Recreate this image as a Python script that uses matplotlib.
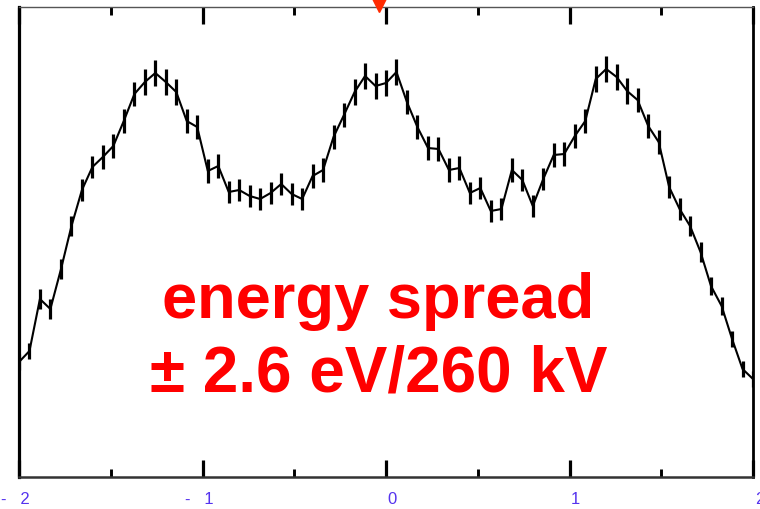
import matplotlib
matplotlib.use("Agg")
import matplotlib.pyplot as plt
import matplotlib.transforms as mtransforms
from matplotlib.ticker import MultipleLocator

plt.rcParams['font.family'] = ['Liberation Sans', 'DejaVu Sans']

# energy axis (data grid, -2 .. 2)
energy = [-2.000, -1.943, -1.886, -1.829, -1.771, -1.714, -1.657, -1.600, -1.543, -1.486,
          -1.429, -1.371, -1.314, -1.257, -1.200, -1.143, -1.086, -1.029, -0.971, -0.914,
          -0.857, -0.800, -0.743, -0.686, -0.629, -0.571, -0.514, -0.457, -0.400, -0.343,
          -0.286, -0.229, -0.171, -0.114, -0.057, 0.000, 0.057, 0.114, 0.171, 0.229,
          0.286, 0.343, 0.400, 0.457, 0.514, 0.571, 0.629, 0.686, 0.743, 0.800,
          0.857, 0.914, 0.971, 1.029, 1.086, 1.143, 1.200, 1.257, 1.314, 1.371,
          1.429, 1.486, 1.543, 1.600, 1.657, 1.714, 1.771, 1.829, 1.886, 1.943, 2.000]

counts = [115, 126, 178, 168, 208, 251, 287, 310, 320, 331,
          356, 383, 395, 404, 395, 385, 356, 350, 306, 311,
          285, 287, 281, 278, 284, 293, 283, 278, 301, 307,
          340, 362, 385, 401, 391, 394, 405, 375, 350, 329,
          328, 307, 309, 284, 289, 266, 268, 307, 297, 271,
          298, 322, 323, 341, 356, 398, 408, 400, 386, 377,
          351, 335, 290, 268, 251, 225, 191, 171, 138, 108, 98]

errors = [8, 8, 10, 10, 10, 10, 11, 11, 12, 12,
          12, 12, 13, 13, 13, 13, 12, 12, 12, 12,
          11, 11, 11, 11, 11, 11, 11, 11, 12, 12,
          12, 12, 13, 13, 13, 13, 13, 12, 12, 12,
          12, 12, 12, 11, 11, 11, 11, 12, 11, 11,
          11, 12, 12, 12, 12, 13, 13, 13, 13, 12,
          12, 12, 11, 11, 10, 10, 9, 9, 8, 8, 8]

tick_pos = [-2, -1, 0, 1, 2]
tick_labels = ['-   2', '-   1', '0', '1', '2']
marker_x = -0.04
annotation = ['energy spread', '\u00b1 2.6 eV/260 kV']

fig = plt.figure(figsize=(7.6, 5.1), dpi=100)
ax = fig.add_axes([19/760, 32/510, 734/760, 470/510])

ax.errorbar(energy, counts, yerr=errors, color='black', lw=1.5,
            elinewidth=2.3, capsize=0)

ax.set_xlim(-2, 2)
ax.set_ylim(0, 470)
ax.set_yticks([])
ax.set_xticks(tick_pos)
ax.set_xticklabels(tick_labels, ha='right', color='#5533ee', fontsize=12)
ax.xaxis.set_minor_locator(MultipleLocator(0.5))
ax.tick_params(axis='x', which='major', direction='in', length=12, width=2.3,
               top=True, pad=10)
ax.tick_params(axis='x', which='minor', direction='in', length=6, width=2.1,
               top=True)
offset = mtransforms.ScaledTranslation(11/100, 0, fig.dpi_scale_trans)
for lab in ax.get_xticklabels():
    lab.set_transform(lab.get_transform() + offset)

ax.spines['left'].set_linewidth(2.3)
ax.spines['left'].set_color('black')
ax.spines['right'].set_linewidth(2.0)
ax.spines['right'].set_color('black')
ax.spines['bottom'].set_linewidth(1.8)
ax.spines['bottom'].set_color('#333333')
ax.spines['top'].set_linewidth(1.0)
ax.spines['top'].set_color('#555555')

trans = mtransforms.blended_transform_factory(ax.transData, ax.transAxes)
ax.plot([marker_x], [1.013], transform=trans, marker='v', ms=16,
        color='#ff2a00', clip_on=False, zorder=10)

fig.text(378/760, (510-318)/510, annotation[0], ha='center', va='baseline',
         fontsize=45.5, fontweight='bold', color='#ff0000')
fig.text(379/760, (510-392)/510, annotation[1], ha='center', va='baseline',
         fontsize=46, fontweight='bold', color='#ff0000')

fig.savefig('out.png', dpi=100)
